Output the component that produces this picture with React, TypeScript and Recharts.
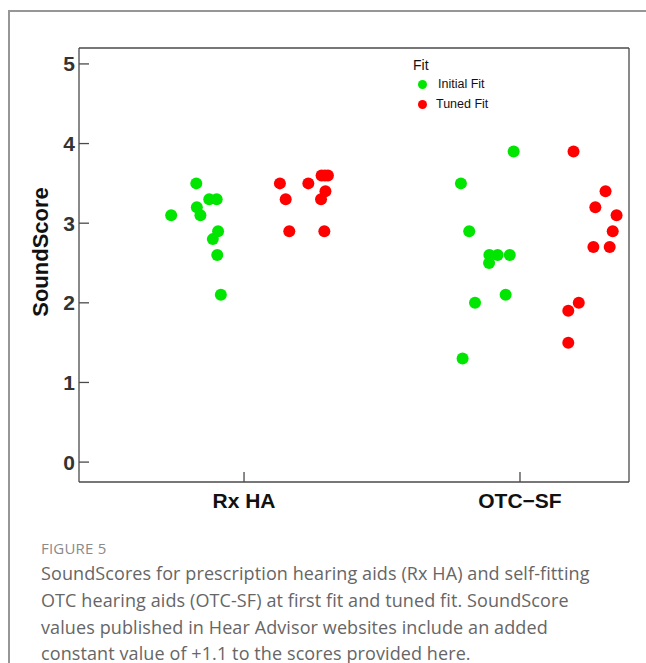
import { Scatter, ScatterChart, XAxis, YAxis } from "recharts";

// Literal colours from the figure.
const GREEN = "#00e600";
const RED = "#ff0000";
const FRAME = "#4a4a4a";
const TICK_TEXT = "#333333";

const categories = ["Rx HA", "OTC−SF"];
const yTicks = [0, 1, 2, 3, 4, 5];
const seriesNames = ["Initial Fit", "Tuned Fit"];

// SoundScore values and the jittered x position of each dot (category 1 = Rx HA, 2 = OTC-SF)
const initialRxScore = [3.5, 3.3, 3.3, 3.2, 3.1, 3.1, 2.9, 2.8, 2.6, 2.1];
const initialRxPos = [0.827, 0.874, 0.901, 0.829, 0.842, 0.736, 0.906, 0.887, 0.903, 0.916];
const tunedRxScore = [3.5, 3.5, 3.3, 3.6, 3.6, 3.6, 3.4, 3.3, 2.9, 2.9];
const tunedRxPos = [1.13, 1.233, 1.151, 1.281, 1.293, 1.304, 1.295, 1.279, 1.164, 1.291];
const initialOtcScore = [3.9, 3.5, 2.9, 2.6, 2.6, 2.6, 2.5, 2.1, 2.0, 1.3];
const initialOtcPos = [1.977, 1.786, 1.816, 1.889, 1.919, 1.963, 1.888, 1.948, 1.837, 1.792];
const tunedOtcScore = [3.9, 3.4, 3.2, 3.1, 2.9, 2.7, 2.7, 2.0, 1.9, 1.5];
const tunedOtcPos = [2.194, 2.31, 2.273, 2.35, 2.336, 2.266, 2.325, 2.213, 2.175, 2.175];

const X_DOMAIN: [number, number] = [0.402, 2.395];
const Y_DOMAIN: [number, number] = [-0.25, 5.2];

function toPoints(pos: number[], score: number[]) {
  return pos.map((x, i) => ({ x, y: score[i] }));
}

const initialData = [
  ...toPoints(initialRxPos, initialRxScore),
  ...toPoints(initialOtcPos, initialOtcScore),
];
const tunedData = [
  ...toPoints(tunedRxPos, tunedRxScore),
  ...toPoints(tunedOtcPos, tunedOtcScore),
];

const AXIS_FONT = "'Liberation Sans', Arial, sans-serif";
const CAPTION_FONT = "'Open Sans', sans-serif";

function YTick({ x, y, payload }: any) {
  return (
    <g>
      <line x1={x} x2={x + 10} y1={y} y2={y} stroke={FRAME} strokeWidth={1.3} />
      <text
        x={x - 4}
        y={y + 7.5}
        textAnchor="end"
        fontFamily={AXIS_FONT}
        fontWeight="bold"
        fontSize={21}
        fill={TICK_TEXT}
      >
        {payload.value}
      </text>
    </g>
  );
}

function XTick({ x, y, payload }: any) {
  return (
    <g>
      <line x1={x} x2={x} y1={y} y2={y - 10} stroke={FRAME} strokeWidth={1.3} />
      <text
        x={x}
        y={y + 26}
        textAnchor="middle"
        fontFamily={AXIS_FONT}
        fontWeight="bold"
        fontSize={21}
        fill="#111"
      >
        {categories[payload.value - 1]}
      </text>
    </g>
  );
}

function YLabel() {
  return (
    <text
      x={48}
      y={252}
      transform="rotate(-90 48 252)"
      textAnchor="middle"
      fontFamily={AXIS_FONT}
      fontWeight="bold"
      fontSize={22}
      fill="#111"
    >
      SoundScore
    </text>
  );
}

const dot = (fill: string) => (p: any) => <circle cx={p.cx} cy={p.cy} r={6} fill={fill} />;

const legendColors = [GREEN, RED];

export default function App() {
  return (
    <div
      style={{
        position: "fixed",
        left: 0,
        top: 0,
        width: 646,
        height: 663,
        overflow: "hidden",
        background: "#fff",
      }}
    >
      <div
        style={{
          position: "absolute",
          left: 8,
          top: 10,
          width: 700,
          height: 700,
          border: "2px solid #969696",
        }}
      />
      <div style={{ position: "absolute", left: 0, top: 0 }}>
        <ScatterChart width={646} height={520} margin={{ top: 47, right: 16, bottom: 37, left: 78 }}>
          <XAxis
            type="number"
            dataKey="x"
            domain={X_DOMAIN}
            ticks={[1, 2]}
            allowDataOverflow
            height={1}
            tickSize={0}
            tickMargin={0}
            tickLine={false}
            tick={<XTick />}
            axisLine={{ stroke: FRAME, strokeWidth: 1.3 }}
          />
          <XAxis
            xAxisId="top"
            orientation="top"
            type="number"
            domain={X_DOMAIN}
            allowDataOverflow
            height={1}
            tick={false}
            tickLine={false}
            axisLine={{ stroke: FRAME, strokeWidth: 1.3 }}
          />
          <YAxis
            type="number"
            dataKey="y"
            domain={Y_DOMAIN}
            ticks={yTicks}
            allowDataOverflow
            width={1}
            tickSize={0}
            tickMargin={0}
            tickLine={false}
            tick={<YTick />}
            axisLine={{ stroke: FRAME, strokeWidth: 1.3 }}
            label={<YLabel />}
          />
          <YAxis
            yAxisId="right"
            orientation="right"
            type="number"
            domain={Y_DOMAIN}
            allowDataOverflow
            width={1}
            tick={false}
            tickLine={false}
            axisLine={{ stroke: FRAME, strokeWidth: 1.3 }}
          />
          <Scatter
            name={seriesNames[0]}
            data={initialData}
            fill={GREEN}
            shape={dot(GREEN)}
            isAnimationActive={false}
          />
          <Scatter
            name={seriesNames[1]}
            data={tunedData}
            fill={RED}
            shape={dot(RED)}
            isAnimationActive={false}
          />
        </ScatterChart>
      </div>

      {/* legend */}
      <div style={{ position: "absolute", left: 413, top: 57, fontFamily: AXIS_FONT, color: "#111" }}>
        <div style={{ fontSize: 14, lineHeight: "17px" }}>Fit</div>
        {seriesNames.map((name, i) => (
          <div
            key={name}
            style={{ display: "flex", alignItems: "center", height: 20, fontSize: 12.5 }}
          >
            <span
              style={{
                display: "inline-block",
                width: 9,
                height: 9,
                borderRadius: "50%",
                background: legendColors[i],
                marginLeft: 5,
                marginRight: i === 0 ? 11 : 9,
              }}
            />
            {name}
          </div>
        ))}
      </div>

      {/* caption */}
      <div
        style={{
          position: "absolute",
          left: 41,
          top: 538,
          fontFamily: CAPTION_FONT,
          fontSize: 15,
          color: "#8a8a8a",
          letterSpacing: 0.2,
        }}
      >
        FIGURE 5
      </div>
      <div
        style={{
          position: "absolute",
          left: 41,
          top: 560,
          width: 605,
          fontFamily: CAPTION_FONT,
          fontSize: 18,
          lineHeight: "26.8px",
          letterSpacing: 0.1,
          color: "#666",
          whiteSpace: "pre",
        }}
      >
        {"SoundScores for prescription hearing aids (Rx HA) and self-fitting\nOTC hearing aids (OTC-SF) at first fit and tuned fit. SoundScore\nvalues published in Hear Advisor websites include an added\nconstant value of +1.1 to the scores provided here."}
      </div>
    </div>
  );
}
